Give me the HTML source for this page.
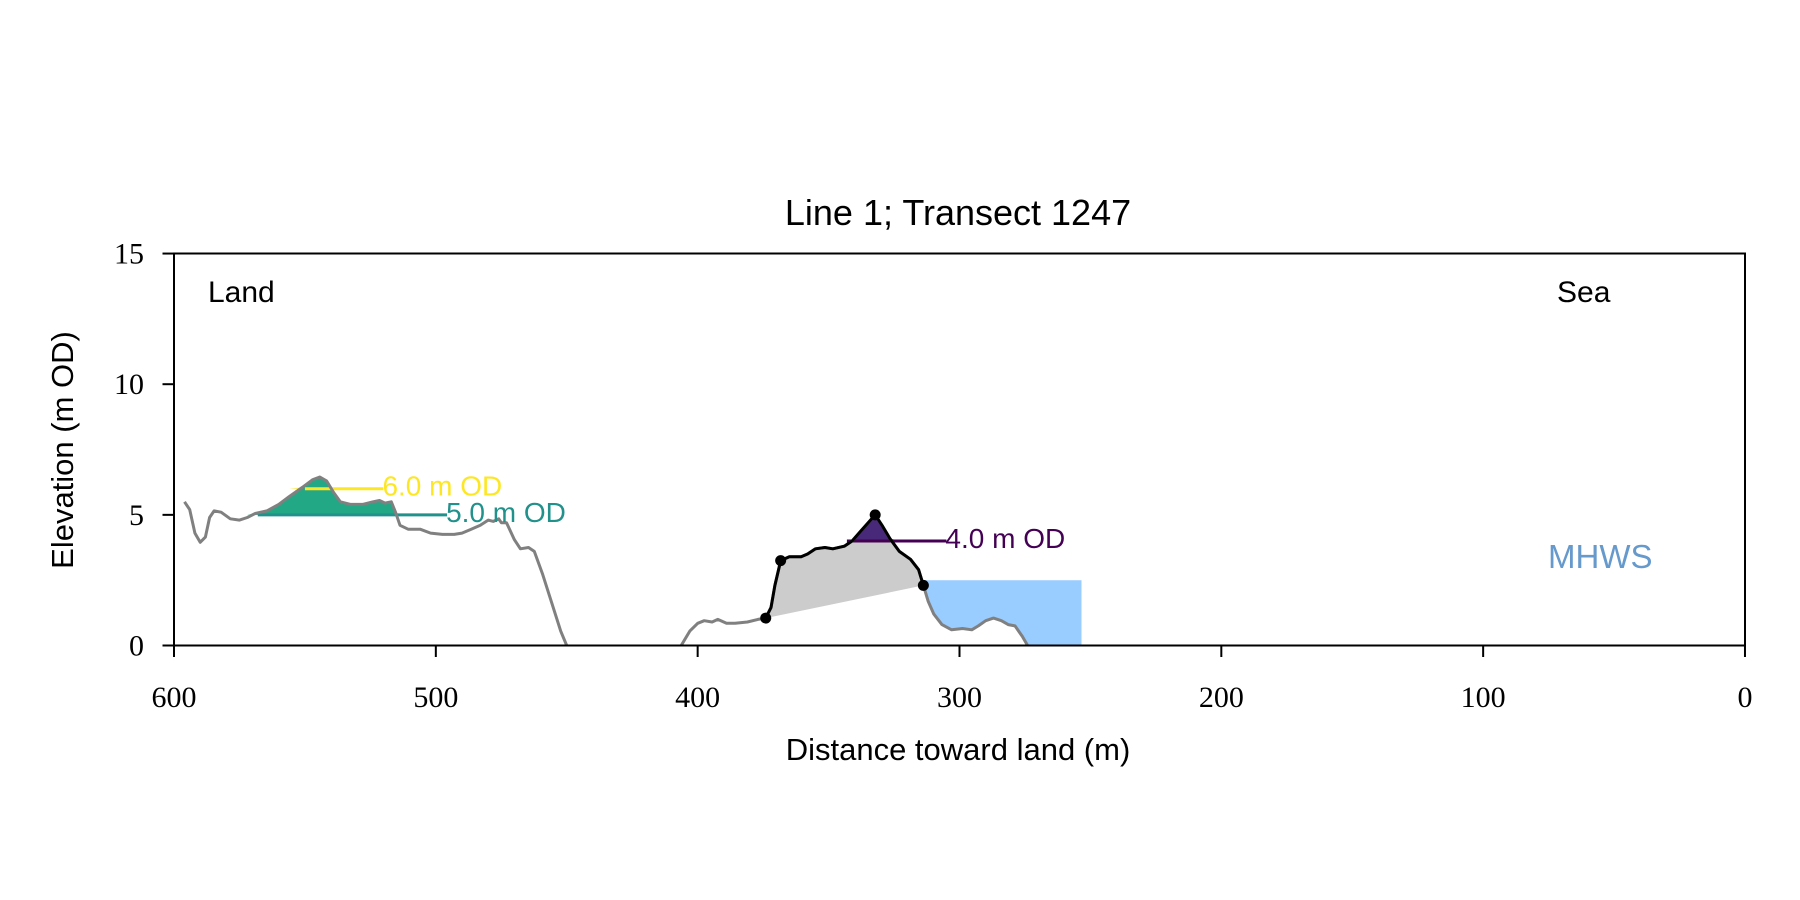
<!DOCTYPE html>
<html><head><meta charset="utf-8"><style>
html,body{margin:0;padding:0;background:#fff;width:1800px;height:900px;overflow:hidden}
svg text{font-family:"Liberation Sans","DejaVu Sans",sans-serif}
.tick{font-family:"Liberation Serif","DejaVu Serif",serif;font-size:30px}
</style></head><body>
<svg id="chart" width="1800" height="900" viewBox="0 0 1800 900">
<defs><clipPath id="plotclip"><rect x="174" y="253.5" width="1571" height="392"/></clipPath></defs>
<rect width="1800" height="900" fill="#fff"/>
<text x="958" y="225" font-size="36" text-anchor="middle">Line 1; Transect 1247</text>
<g id="marks" clip-path="url(#plotclip)"></g>
<rect x="174" y="253.5" width="1571" height="392" fill="none" stroke="#000" stroke-width="2"/>
<g id="axes"></g>
<text x="208" y="302" font-size="30">Land</text>
<text x="1557" y="302" font-size="30">Sea</text>
<text x="1548" y="568" font-size="33" fill="#6699cc">MHWS</text>
<text x="0" y="0" font-size="31" text-anchor="middle" transform="translate(73,450) rotate(-90)">Elevation (m OD)</text>
<text x="958" y="760" font-size="31" text-anchor="middle">Distance toward land (m)</text>
</svg>
<script>
const dist=[596,594,592,590,588,586.4,584.7,582,578.5,575,572,569,564.5,560,556,551,547,544.3,541.7,539,536.5,532.5,528,524,521.5,519.4,517,515.4,513.7,510.6,506,502,497.5,493,490,486.5,483,480,478,476,475,473,470,467.7,464.6,462.4,459.3,455.8,452.3,450,448,408,406.3,403,400,397.5,394.5,392.3,389,385.7,381,377,374,372,370.5,368.3,365,360.5,358,355,351.4,348.4,344,341,337.5,334.4,332.2,329.6,326.6,323,318.7,315.6,313.8,312,309.8,306.7,303,298.8,295.3,292.8,290,287,284,281.4,278.8,276,274,272];
const elev=[5.5,5.2,4.3,3.95,4.15,4.9,5.15,5.1,4.85,4.8,4.9,5.05,5.15,5.4,5.7,6.05,6.35,6.45,6.3,5.85,5.5,5.4,5.4,5.5,5.55,5.45,5.5,5.1,4.6,4.45,4.45,4.3,4.25,4.25,4.3,4.45,4.6,4.8,4.75,4.85,4.7,4.7,4.05,3.7,3.75,3.6,2.75,1.65,0.55,0,-0.8,-0.8,0,0.55,0.85,0.95,0.9,1.0,0.85,0.85,0.9,1.0,1.05,1.45,2.3,3.25,3.4,3.4,3.5,3.7,3.75,3.7,3.8,4.0,4.4,4.75,5.0,4.6,4.1,3.6,3.3,2.9,2.3,1.7,1.2,0.8,0.6,0.65,0.6,0.75,0.95,1.05,0.95,0.8,0.75,0.35,0,-0.8];
const keyPoints=[374,368.3,332.2,313.8];
const levels=[6.0,5.0,4.0];
const levelColors=["#fde725","#21918c","#440154"];
const levelFill=["#fde725","#22a884","#482878"];
const levelFrom=[550,568,343];
const levelTo=[520,495.7,305];
const mhws=2.5;
const mhwsEnd=253.4;
const xTicks=[600,500,400,300,200,100,0];
const yTicks=[0,5,10,15];
const X=d=>174+(600-d)*2.6183;
const Y=e=>645.5-e*26.13;
const NS="http://www.w3.org/2000/svg";
const marks=document.getElementById('marks'),axes=document.getElementById('axes');
function mk(tag,attrs,parent){const el=document.createElementNS(NS,tag);for(const k in attrs)el.setAttribute(k,attrs[k]);parent.appendChild(el);return el;}
function seg(a,b){const p=[];for(let i=0;i<dist.length;i++)if(dist[i]<=a&&dist[i]>=b)p.push([dist[i],elev[i]]);return p;}
const pts=p=>p.map(q=>X(q[0]).toFixed(1)+','+Y(q[1]).toFixed(1)).join(' ');
// gray area between key points
let gp=seg(keyPoints[0],keyPoints[3]);
let g=mk('polygon',{points:pts(gp),fill:'#cccccc'},marks);


// mhws fill
let mp=seg(keyPoints[3],274).concat([[274,0],[mhwsEnd,0],[mhwsEnd,mhws],[keyPoints[3],mhws]]);
let m=mk('polygon',{points:pts(mp),fill:'#99ccff'},marks);


// level fills
levels.forEach((lv,i)=>{
  const rng=i===0?[556,530]:i===1?[572,512]:[345,322];
  let p=seg(rng[0],rng[1]).map(q=>[q[0],Math.max(q[1],lv)]);
  p=p.concat([[rng[1],lv],[rng[0],lv]]);
  let f=mk('polygon',{points:pts(p),fill:levelFill[i]},marks);
  
  
});
levels.forEach((lv,i)=>{
  let l=mk('line',{x1:X(levelFrom[i]),x2:X(levelTo[i]),y1:Y(lv),y2:Y(lv),stroke:levelColors[i],'stroke-width':3},marks);
  
  
});
// profile
let pr=mk('polyline',{points:pts(dist.map((d,i)=>[d,elev[i]])),fill:'none',stroke:'#808080','stroke-width':3,'stroke-linejoin':'round'},marks);


let bl=mk('polyline',{points:pts(gp),fill:'none',stroke:'#000','stroke-width':3,'stroke-linejoin':'round'},marks);


keyPoints.forEach(k=>{
  const i=dist.indexOf(k);
  let c=mk('circle',{cx:X(dist[i]),cy:Y(elev[i]),r:5.5,fill:'#000'},marks);
  
  
});
// level labels
levels.forEach((lv,i)=>{
  let t=mk('text',{x:X(levelTo[i])-1,y:Y(lv)+7,'font-size':28,fill:levelColors[i]},marks.parentNode);
  t.textContent=lv.toFixed(1)+' m OD';
  
  
});
xTicks.forEach(v=>{
  let l=mk('line',{x1:X(v),x2:X(v),y1:645.5,y2:657,stroke:'#000','stroke-width':2},axes);
  
  
  let t=mk('text',{x:X(v),y:707,'text-anchor':'middle',class:'tick'},axes);
  t.textContent=v;
  
  
});
yTicks.forEach(v=>{
  let l=mk('line',{x1:162.5,x2:174,y1:Y(v),y2:Y(v),stroke:'#000','stroke-width':2},axes);
  
  
  let t=mk('text',{x:144,y:Y(v)+10,'text-anchor':'end',class:'tick'},axes);
  t.textContent=v;
  
  
});
</script>
</body></html>
